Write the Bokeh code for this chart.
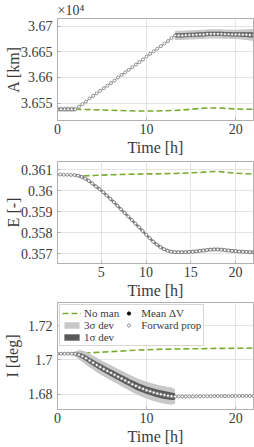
import numpy as np
from bokeh.plotting import figure
from bokeh.models import FixedTicker, Legend, LegendItem, Range1d
from bokeh.layouts import column
from bokeh.embed import file_html
from bokeh.resources import INLINE

# ---------------- data ----------------
t_fp = [round(0.4 * i, 1) for i in range(56)]          # sample times [h]
t_nm = list(range(23))                                   # no-manoeuvre sample times [h]

A_fp = [36538, 36538, 36538, 36538, 36538, 36538,
        36543, 36548, 36553, 36559, 36564, 36569, 36574, 36579, 36584, 36589,
        36594, 36600, 36605, 36610, 36615, 36620, 36625, 36630, 36635, 36641,
        36646, 36651, 36656, 36661, 36666, 36671, 36677, 36682,
        36682, 36682, 36682.5, 36683, 36683, 36683.5, 36684, 36684, 36685, 36685,
        36685, 36685, 36685, 36684.5, 36684.5, 36684, 36684, 36684, 36683.5,
        36683.5, 36683, 36683]
A_sig3 = [5, 5, 5, 5, 5, 5] + [None] * 27 + \
         [9, 9, 9, 9, 9, 9, 9, 9, 9, 9, 9, 9, 9, 9, 9, 9, 9, 9, 9.5, 10, 10.5, 11, 12]
A_sig1 = [2.5, 2.5, 2.5, 2.5, 2.5, 2.5] + [None] * 27 + \
         [4, 4, 4, 4, 4, 4, 4, 4, 4, 4, 4, 4, 4, 4, 4, 4, 4, 4, 4, 4.5, 4.5, 5, 5]
A_nm = [36538, 36538, 36538, 36537.5, 36537, 36536.5, 36536, 36535.5, 36535,
        36534.5, 36534.5, 36534.5, 36535, 36535.5, 36536.5, 36538, 36539.5,
        36540.5, 36540.5, 36539.5, 36538.5, 36538, 36538]

E_fp = [0.36077, 0.36077, 0.36076, 0.36076, 0.36075, 0.36074, 0.36071, 0.36066,
        0.36058, 0.36047, 0.36034, 0.36020, 0.36007, 0.35993, 0.35977, 0.35961,
        0.35945, 0.35928, 0.35911, 0.35894, 0.35877, 0.35860, 0.35843, 0.35826,
        0.35808, 0.35790, 0.35774, 0.35757, 0.35743, 0.35731, 0.35721, 0.35714,
        0.35709, 0.35707, 0.35707, 0.35707, 0.35707, 0.35708, 0.35709, 0.35711,
        0.35713, 0.35715, 0.35717, 0.35719, 0.35720, 0.35720, 0.35719, 0.35717,
        0.35715, 0.35713, 0.35712, 0.35710, 0.35709, 0.35708, 0.35707, 0.35707]
E_sig3 = [None] * 5 + [0.00006, 0.00008, 0.00009, 0.0001, 0.0001, 0.0001,
          0.0001, 0.0001, 0.0001, 0.0001, 0.0001, 0.0001, 0.0001, 0.0001,
          0.0001, 0.0001, 0.0001, 0.0001, 0.0001, 0.0001, 0.0001, 0.0001,
          0.0001, 0.0001, 0.0001, 0.00009, 0.00009, 0.00009, 0.00009, 0.00009,
          0.00009, 0.00009, 0.00009, 0.00009, 0.00009, 0.00009, 0.00009, 0.00009,
          0.00009, 0.00009, 0.00009, 0.00009, 0.00009, 0.00009, 0.00009, 0.00009,
          0.00009, 0.00009, 0.00009, 0.00009, 0.00009]
E_sig1 = [None] * 5 + [0.00004, 0.00005] + [0.00006] * 49
E_nm = [0.36077, 0.36075, 0.36072, 0.36071, 0.36072, 0.36074, 0.36076, 0.36077,
        0.36078, 0.36079, 0.36080, 0.36080, 0.36081, 0.36082, 0.36083, 0.36085,
        0.36087, 0.36090, 0.36092, 0.36087, 0.36083, 0.36081, 0.36079]

I_fp = [1.7036, 1.7036, 1.7036, 1.7036, 1.7036, 1.7035, 1.7030, 1.7021, 1.7009,
        1.6996, 1.6983, 1.6970, 1.6958, 1.6946, 1.6935, 1.6924, 1.6913, 1.6902,
        1.6891, 1.6880, 1.6869, 1.6858, 1.6848, 1.6839, 1.6831, 1.6823, 1.6816,
        1.6810, 1.6804, 1.6799, 1.6795, 1.6791, 1.6788, 1.6786,
        1.6786, 1.6786, 1.6786, 1.6786, 1.6786, 1.6787, 1.6787, 1.6787, 1.6787,
        1.6787, 1.6788, 1.6788, 1.6788, 1.6788, 1.6788, 1.6788, 1.6789, 1.6789,
        1.6789, 1.6789, 1.6789, 1.6789]
I_sig3 = [0.0007, 0.0007, 0.0007, 0.0007, 0.0007, 0.0015, 0.0028, 0.0034,
          0.0038, 0.0040, 0.0041, 0.0042,
          0.0043, 0.0043, 0.0044, 0.0044, 0.0045, 0.0045, 0.0046, 0.0046, 0.0047,
          0.0047, 0.0048, 0.0048, 0.0049, 0.0049, 0.0050, 0.0050, 0.0050, 0.0051,
          0.0051, 0.0051, 0.0050, 0.0042] + [None] * 22
I_sig1 = [0.0004, 0.0004, 0.0004, 0.0004, 0.0004, 0.0008, 0.0012, 0.0015,
          0.0016, 0.0017, 0.0018, 0.0018,
          0.0019, 0.0019, 0.0019, 0.0020, 0.0020, 0.0020, 0.0021, 0.0021, 0.0021,
          0.0021, 0.0022, 0.0022, 0.0022, 0.0022, 0.0022, 0.0023, 0.0023, 0.0023,
          0.0023, 0.0023, 0.0022, 0.0019] + [None] * 22
I_nm = [1.7036, 1.7037, 1.7038, 1.7040, 1.7042, 1.7045, 1.7048, 1.7051, 1.7054,
        1.7057, 1.7059, 1.7061, 1.7062, 1.7063, 1.7064, 1.7065, 1.7065, 1.7066,
        1.7067, 1.7067, 1.7068, 1.7068, 1.7069]

A_ticks = [36550.0, 36600.0, 36650.0, 36700.0]
A_labels = ["3.655", "3.66", "3.665", "3.67"]
E_ticks = [0.357, 0.358, 0.359, 0.360, 0.361]
E_labels = ["0.357", "0.358", "0.359", "0.36", "0.361"]
I_ticks = [1.68, 1.70, 1.72]
I_labels = ["1.68", "1.7", "1.72"]
x_ticks_a = [0, 10, 20]
x_ticks_b = [5, 10, 15, 20]

# ---------------- style ----------------
FONT = "Liberation Serif"
GREEN = "#77ac30"
LIGHT = "#c8c8c8"
DARK = "#595959"
AXC = "#b0b0b0"
TXT = "#3a3a3a"


def segments(t, c, w):
    segs, cur = [], []
    for ti, ci, wi in zip(t, c, w):
        if wi is None:
            if cur:
                segs.append(cur)
                cur = []
        else:
            cur.append((ti, ci, wi))
    if cur:
        segs.append(cur)
    return segs


def make_fig(height, top, bottom, xr, yr, title=None):
    kw = {}
    if title:
        kw["title"] = title
    p = figure(width=254, height=height, x_range=Range1d(*xr), y_range=Range1d(*yr),
               output_backend="svg", toolbar_location=None,
               min_border_left=52, min_border_right=1,
               min_border_top=top, min_border_bottom=bottom, **kw)
    p.outline_line_color = AXC
    p.outline_line_width = 1
    p.background_fill_color = "white"
    p.border_fill_color = "white"
    p.grid.grid_line_color = "#e4e4e4"
    p.grid.grid_line_width = 1
    return p


def style_axes(p, xt, yt, ylabels, ylabel, ystand):
    p.xaxis.ticker = FixedTicker(ticks=xt)
    p.yaxis.ticker = FixedTicker(ticks=yt)
    p.yaxis.major_label_overrides = {float(k): v for k, v in zip(yt, ylabels)}
    for ax in p.axis:
        ax.axis_line_color = AXC
        ax.major_tick_line_color = AXC
        ax.major_tick_in = 3
        ax.major_tick_out = 0
        ax.minor_tick_in = 0
        ax.minor_tick_out = 0
        ax.major_label_text_font = FONT
        ax.major_label_text_font_size = "14px"
        ax.major_label_text_color = TXT
        ax.axis_label_text_font = FONT
        ax.axis_label_text_font_size = "16px"
        ax.axis_label_text_font_style = "normal"
        ax.axis_label_text_color = TXT
    p.xaxis.axis_label = "Time [h]"
    p.xaxis.major_label_standoff = 3
    p.xaxis.axis_label_standoff = 2
    p.yaxis.axis_label = ylabel
    p.yaxis.major_label_standoff = 5
    p.yaxis.axis_label_standoff = ystand


def draw(p, t, fp, sig3, sig1, tn, nm):
    g = p.line(tn, nm, line_color=GREEN, line_width=1.6, line_dash="6 3")
    r3 = r1 = None
    for seg in segments(t, fp, sig3):
        ts, cs, ws = zip(*seg)
        r3 = p.varea(x=list(ts), y1=[c - w for c, w in zip(cs, ws)],
                     y2=[c + w for c, w in zip(cs, ws)], fill_color=LIGHT)
    for seg in segments(t, fp, sig1):
        ts, cs, ws = zip(*seg)
        r1 = p.varea(x=list(ts), y1=[c - w for c, w in zip(cs, ws)],
                     y2=[c + w for c, w in zip(cs, ws)], fill_color=DARK)
    p.line(t, fp, line_color="#8c8c8c", line_width=1)
    mt = [ti for ti, w in zip(t, sig1) if w is not None]
    mv = [v for v, w in zip(fp, sig1) if w is not None]
    rm = p.scatter(mt, mv, size=1.6, color="black")
    rf = p.scatter(t, fp, marker="circle", size=3.0, fill_color="white",
                   line_color="#7a7a7a", line_width=0.8)
    return g, r3, r1, rm, rf


# ---------------- panel 1 ----------------
p1 = make_fig(158, 15, 38, (0, 22), (36516, 36715), title="×10⁴")
p1.title.text_font = FONT
p1.title.text_font_size = "14px"
p1.title.text_font_style = "normal"
p1.title.text_color = TXT
p1.title.standoff = 1
p1.title.align = "left"
draw(p1, t_fp, A_fp, A_sig3, A_sig1, t_nm, A_nm)
style_axes(p1, x_ticks_a, A_ticks, A_labels, "A [km]", -4)

# ---------------- panel 2 ----------------
p2 = make_fig(143, 3, 36, (0.1, 22), (0.35653, 0.36139))
draw(p2, t_fp, E_fp, E_sig3, E_sig1, t_nm, E_nm)
style_axes(p2, x_ticks_b, E_ticks, E_labels, "E [-]", -4)

# ---------------- panel 3 ----------------
p3 = make_fig(146, 1, 38, (0, 22), (1.671, 1.7335))
g, r3, r1, rm, rf = draw(p3, t_fp, I_fp, I_sig3, I_sig1, t_nm, I_nm)
style_axes(p3, x_ticks_a, I_ticks, I_labels, "I [deg]", 4)

legend = Legend(items=[LegendItem(label="No man", renderers=[g]),
                       LegendItem(label="3σ dev", renderers=[r3]),
                       LegendItem(label="1σ dev", renderers=[r1]),
                       LegendItem(label="Mean ΔV", renderers=[rm]),
                       LegendItem(label="Forward prop", renderers=[rf])],
                location="top_left", nrows=3, orientation="vertical")
legend.label_text_font = FONT
legend.label_text_font_size = "11px"
legend.label_text_line_height = 1.0
legend.label_text_color = TXT
legend.glyph_width = 19
legend.glyph_height = 8
legend.label_height = 9
legend.label_standoff = 3
legend.spacing = 0
legend.padding = 2
legend.margin = 2
legend.border_line_color = AXC
legend.background_fill_alpha = 1.0
p3.add_layout(legend)

layout = column(p1, p2, p3, spacing=0)
open("out.html", "w").write(file_html(layout, INLINE))
